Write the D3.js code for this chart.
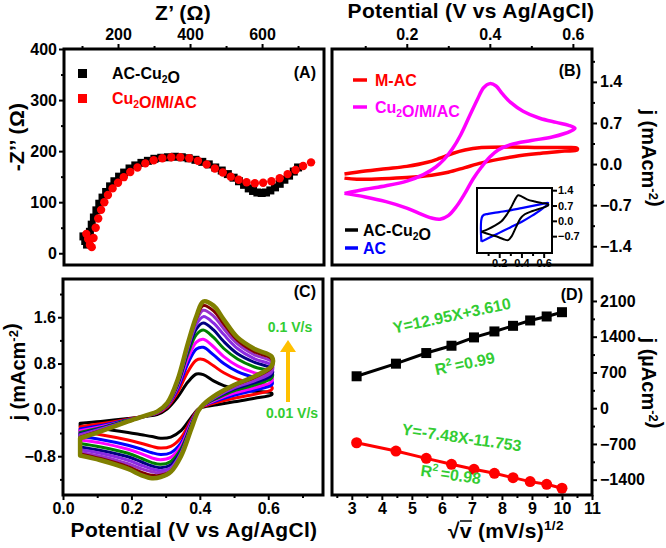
<!DOCTYPE html>
<html>
<head>
<meta charset="utf-8">
<script src="https://cdn.jsdelivr.net/npm/d3@7"></script>
<style>
  body { margin: 0; background: #fff; }
  text { font-family: "Liberation Sans", Arial, sans-serif; font-weight: bold; }
</style>
</head>
<body>
<svg id="chart" width="666" height="548"></svg>
<script>
// ---- (A) Nyquist data ----
const acCu2oZre = [104,109,114,118,122,127,133,140,148,157,167,178,190,203,217,232,248,265,283,301,320,339,358,377,396,415,434,452,470,488,505,521,536,550,563,575,587,599,611,623,636,649,662,675,688,700];
const acCu2oZim = [33,24,17,28,42,56,70,84,97,109,120,131,141,150,158,166,172,177,181,185,187,188,189,188,186,183,179,174,168,162,155,148,141,134,127,122,119,118,119,123,129,136,144,152,160,168];
const cu2oMacZre = [112,117,122,127,132,138,145,153,162,172,185,200,216,234,254,276,299,323,348,373,398,422,446,469,491,513,535,557,580,603,626,649,671,693,714,736];
const cu2oMacZim = [38,28,16,12,30,50,68,85,100,114,127,138,149,159,168,176,182,186,188,188,186,181,174,166,158,150,144,139,137,138,141,147,155,163,171,178];

// ---- (B) CV at 0.1 V/s ----
const mAcV = [0.05,0.10,0.15,0.20,0.25,0.28,0.31,0.34,0.38,0.45,0.52,0.58,0.61,0.61,0.58,0.52,0.46,0.42,0.38,0.34,0.30,0.26,0.20,0.14,0.08,0.05];
const mAcJ = [-0.17,-0.12,-0.08,-0.04,0.03,0.10,0.18,0.24,0.28,0.29,0.28,0.28,0.27,0.24,0.22,0.18,0.13,0.08,0.02,-0.06,-0.14,-0.19,-0.23,-0.25,-0.26,-0.24];
const cu2oMacV = [0.05,0.10,0.15,0.20,0.24,0.27,0.29,0.31,0.33,0.35,0.37,0.385,0.40,0.415,0.43,0.45,0.48,0.52,0.56,0.59,0.605,0.60,0.58,0.55,0.50,0.45,0.42,0.40,0.38,0.36,0.34,0.32,0.30,0.28,0.26,0.23,0.20,0.15,0.10,0.05];
const cu2oMacJ = [-0.50,-0.43,-0.37,-0.29,-0.18,-0.05,0.08,0.26,0.50,0.80,1.10,1.30,1.37,1.33,1.20,1.05,0.90,0.78,0.71,0.66,0.61,0.58,0.52,0.46,0.40,0.33,0.24,0.12,-0.05,-0.25,-0.50,-0.72,-0.88,-0.94,-0.92,-0.84,-0.75,-0.64,-0.56,-0.50];
// inset
const acCu2oV = [0.04,0.10,0.16,0.22,0.27,0.31,0.34,0.37,0.40,0.45,0.52,0.58,0.64,0.64,0.58,0.50,0.43,0.39,0.35,0.31,0.28,0.25,0.20,0.12,0.04];
const acCu2oJ = [-0.50,-0.38,-0.22,-0.02,0.30,0.65,0.95,1.17,1.12,0.98,0.88,0.82,0.76,0.70,0.58,0.45,0.30,0.10,-0.30,-0.72,-0.88,-0.86,-0.76,-0.63,-0.50];
const acV = [0.04,0.10,0.20,0.30,0.40,0.50,0.58,0.64,0.58,0.50,0.40,0.30,0.20,0.10,0.05,0.04];
const acJ = [-0.95,-0.80,-0.55,-0.30,-0.05,0.25,0.52,0.82,0.76,0.68,0.58,0.48,0.40,0.32,0.22,-0.95];

// ---- (C) CVs at 0.01 ... 0.1 V/s ----
const scanColors = ['#000000','#ff0000','#0000ff','#ff00ff','#008000','#000080','#8a2be2','#9932cc','#800000','#808000'];
const fwdV = [0.05,0.11,0.19,0.245,0.275,0.305,0.335,0.365,0.39,0.41,0.44,0.47,0.51,0.56,0.61];
const revV = [0.61,0.56,0.50,0.45,0.41,0.395,0.375,0.345,0.315,0.285,0.26,0.23,0.19,0.11,0.05];
const fwdJ = [
  [-0.23,-0.20,-0.15,-0.11,-0.08,0.02,0.22,0.48,0.62,0.61,0.50,0.42,0.36,0.32,0.29],
  [-0.29,-0.24,-0.16,-0.10,-0.06,0.05,0.30,0.66,0.86,0.87,0.76,0.64,0.53,0.45,0.40],
  [-0.33,-0.27,-0.17,-0.10,-0.05,0.07,0.36,0.80,1.05,1.08,0.95,0.80,0.66,0.56,0.50],
  [-0.36,-0.29,-0.18,-0.10,-0.05,0.08,0.40,0.89,1.17,1.22,1.09,0.92,0.76,0.64,0.57],
  [-0.39,-0.31,-0.18,-0.10,-0.04,0.09,0.43,0.97,1.30,1.38,1.25,1.06,0.88,0.74,0.65],
  [-0.41,-0.32,-0.19,-0.10,-0.04,0.10,0.45,1.02,1.40,1.50,1.38,1.18,0.97,0.82,0.71],
  [-0.43,-0.33,-0.19,-0.10,-0.04,0.10,0.47,1.06,1.48,1.61,1.50,1.30,1.06,0.88,0.77],
  [-0.45,-0.35,-0.20,-0.10,-0.03,0.11,0.49,1.10,1.54,1.72,1.62,1.40,1.14,0.95,0.83],
  [-0.47,-0.36,-0.20,-0.09,-0.03,0.11,0.51,1.13,1.58,1.80,1.71,1.48,1.20,1.00,0.88],
  [-0.49,-0.37,-0.20,-0.09,-0.03,0.12,0.52,1.15,1.62,1.87,1.80,1.56,1.25,1.05,0.92]
];
const revJ = [
  [0.26,0.20,0.14,0.09,0.05,0.01,-0.13,-0.36,-0.47,-0.49,-0.46,-0.43,-0.39,-0.32,-0.28],
  [0.35,0.27,0.20,0.13,0.06,0.01,-0.17,-0.48,-0.63,-0.66,-0.63,-0.58,-0.52,-0.43,-0.38],
  [0.43,0.34,0.25,0.16,0.07,0.00,-0.20,-0.57,-0.74,-0.77,-0.74,-0.68,-0.61,-0.51,-0.46],
  [0.49,0.38,0.29,0.18,0.07,0.00,-0.22,-0.62,-0.82,-0.86,-0.83,-0.76,-0.68,-0.57,-0.52],
  [0.55,0.43,0.33,0.20,0.08,0.00,-0.25,-0.67,-0.89,-0.94,-0.91,-0.84,-0.75,-0.64,-0.58],
  [0.60,0.47,0.36,0.22,0.08,-0.01,-0.27,-0.71,-0.95,-1.00,-0.97,-0.90,-0.81,-0.70,-0.64],
  [0.65,0.50,0.38,0.23,0.08,-0.01,-0.29,-0.74,-1.00,-1.05,-1.02,-0.96,-0.87,-0.75,-0.69],
  [0.69,0.53,0.40,0.25,0.09,-0.01,-0.31,-0.77,-1.04,-1.09,-1.07,-1.02,-0.93,-0.80,-0.73],
  [0.73,0.56,0.42,0.26,0.09,-0.02,-0.32,-0.79,-1.06,-1.13,-1.13,-1.08,-0.98,-0.84,-0.76],
  [0.76,0.58,0.43,0.27,0.09,-0.02,-0.33,-0.80,-1.07,-1.16,-1.18,-1.13,-1.02,-0.87,-0.79]
];

// ---- (D) peak current vs sqrt(scan rate) ----
const sqrtV = [3.16,4.47,5.48,6.32,7.07,7.75,8.37,8.94,9.49,10.0];
const ipa = [625,872,1080,1223,1386,1503,1613,1718,1796,1880];
const ipc = [-677,-839,-982,-1099,-1197,-1275,-1360,-1438,-1490,-1568];

const svg = d3.select('#chart');
const green = '#33cc33';

function axis(gen, scale, majors, minors, fmt, tx, ty, fs, pad) {
  const gm = svg.append('g').attr('transform', `translate(${tx},${ty})`)
    .call(gen(scale).tickValues(minors).tickSize(3).tickFormat(''));
  const g = svg.append('g').attr('transform', `translate(${tx},${ty})`)
    .call(gen(scale).tickValues(majors).tickSize(5).tickPadding(pad).tickFormat(fmt));
  [gm, g].forEach(s => {
    s.select('.domain').remove();
    s.selectAll('line').attr('stroke', '#000').attr('stroke-width', 2);
  });
  g.selectAll('text').attr('font-size', fs).attr('fill', '#000')
    .attr('font-family', '"Liberation Sans", Arial, sans-serif').attr('font-weight', 'bold');
}

function frame(x, y, w, h, sw) {
  svg.append('rect').attr('x', x).attr('y', y).attr('width', w).attr('height', h)
    .attr('fill', 'none').attr('stroke', '#000').attr('stroke-width', sw);
}

function label(x, y, parts, opts) {
  const t = svg.append('text').attr('x', x).attr('y', y)
    .attr('font-size', opts.size).attr('fill', opts.color || '#000')
    .attr('text-anchor', opts.anchor || 'start');
  if (opts.spacing) t.attr('letter-spacing', opts.spacing);
  if (opts.rotate) t.attr('transform', `rotate(${opts.rotate},${x},${y})`);
  parts.forEach(p => {
    if (typeof p === 'string') t.append('tspan').text(p);
    else t.append('tspan').text(p.t).attr('font-size', opts.size * 0.65).attr('dy', p.dy)
  });
  return t;
}

// ================= (A) =================
const xA = d3.scaleLinear().domain([50, 772]).range([64, 324]);
const yA = d3.scaleLinear().domain([-23, 400]).range([265, 49]);
axis(d3.axisTop, xA, [200, 400, 600], [100, 300, 500, 700], d3.format('d'), 0, 49, 16, 4);
axis(d3.axisLeft, yA, [0, 100, 200, 300, 400], [50, 150, 250, 350], d3.format('d'), 64, 0, 16, 2);

const sq = 8;
svg.append('g').selectAll('rect').data(acCu2oZre).join('rect')
  .attr('x', (d, i) => xA(d) - sq / 2).attr('y', (d, i) => yA(acCu2oZim[i]) - sq / 2)
  .attr('width', sq).attr('height', sq).attr('fill', '#000');
svg.append('g').selectAll('circle').data(cu2oMacZre).join('circle')
  .attr('cx', d => xA(d)).attr('cy', (d, i) => yA(cu2oMacZim[i])).attr('r', 4.2).attr('fill', '#ff0000');

svg.append('rect').attr('x', 78).attr('y', 69).attr('width', 9).attr('height', 9).attr('fill', '#000');
svg.append('rect').attr('x', 78).attr('y', 94).attr('width', 9).attr('height', 9).attr('fill', '#ff0000');
label(112, 79, ['AC-Cu', {t: '2', dy: 4}, {t: '', dy: -4}, 'O'], {size: 16});
label(112, 104, ['Cu', {t: '2', dy: 4}, {t: '', dy: -4}, 'O/M/AC'], {size: 16, color: '#ff0000'});
label(316, 78, ['(A)'], {size: 16, anchor: 'end'});
frame(64, 49, 260, 216, 3);
label(183, 20, ['Z\u2019 (\u03a9)'], {size: 21, anchor: 'middle', spacing: 0.3});
label(24, 137, ['-Z\u2019\u2019 (\u03a9)'], {size: 21, anchor: 'middle', rotate: -90, spacing: 0.3});

// ================= (B) =================
const xB = d3.scaleLinear().domain([0.02, 0.646]).range([332, 592]);
const yB = d3.scaleLinear().domain([-1.72, 1.96]).range([265, 49]);
axis(d3.axisTop, xB, [0.2, 0.4, 0.6], [0.1, 0.3, 0.5], d3.format('.1f'), 0, 49, 16, 4);
axis(d3.axisRight, yB, [-1.4, -0.7, 0, 0.7, 1.4], [-1.05, -0.35, 0.35, 1.05, 1.75], d3.format('.1f'), 592, 0, 16, 3);

const lineB = d3.line().x(d => xB(d[0])).y(d => yB(d[1])).curve(d3.curveCatmullRom.alpha(0.5));
svg.append('path').attr('d', lineB(mAcV.map((v, i) => [v, mAcJ[i]])))
  .attr('fill', 'none').attr('stroke', '#ff0000').attr('stroke-width', 3.5);
svg.append('path').attr('d', lineB(cu2oMacV.map((v, i) => [v, cu2oMacJ[i]])))
  .attr('fill', 'none').attr('stroke', '#ff00ff').attr('stroke-width', 3.5);

// legend B
[[80, '#ff0000'], [107, '#ff00ff']].forEach(([y, c]) =>
  svg.append('line').attr('x1', 353).attr('x2', 367).attr('y1', y).attr('y2', y).attr('stroke', c).attr('stroke-width', 3.5));
[[230, '#000'], [248, '#0000ff']].forEach(([y, c]) =>
  svg.append('line').attr('x1', 345).attr('x2', 358).attr('y1', y).attr('y2', y).attr('stroke', c).attr('stroke-width', 3.5));
label(375, 86, ['M-AC'], {size: 16, color: '#ff0000'});
label(375, 113, ['Cu', {t: '2', dy: 4}, {t: '', dy: -4}, 'O/M/AC'], {size: 16, color: '#ff00ff'});
label(363, 236, ['AC-Cu', {t: '2', dy: 4}, {t: '', dy: -4}, 'O'], {size: 16});
label(363, 254, ['AC'], {size: 16, color: '#0000ff'});
label(581, 76, ['(B)'], {size: 16, anchor: 'end'});

// inset
const xI = d3.scaleLinear().domain([0, 0.675]).range([477, 552]);
const yI = d3.scaleLinear().domain([-1.47, 1.5]).range([253, 188]);
svg.append('rect').attr('x', 477).attr('y', 188).attr('width', 75).attr('height', 65).attr('fill', '#fff');
const lineI = d3.line().x(d => xI(d[0])).y(d => yI(d[1])).curve(d3.curveCatmullRom.alpha(0.5));
svg.append('path').attr('d', lineI(acV.map((v, i) => [v, acJ[i]])))
  .attr('fill', 'none').attr('stroke', '#0000ff').attr('stroke-width', 2.2);
svg.append('path').attr('d', lineI(acCu2oV.map((v, i) => [v, acCu2oJ[i]])))
  .attr('fill', 'none').attr('stroke', '#000').attr('stroke-width', 2);
frame(477, 188, 75, 65, 2);
axis(d3.axisBottom, xI, [0.2, 0.4, 0.6], [0.1, 0.3, 0.5], d3.format('.1f'), 0, 253, 11, 1);
axis(d3.axisRight, yI, [-0.7, 0, 0.7, 1.4], [], d3.format('.1f'), 552, 0, 11, 1);

frame(332, 49, 260, 216, 3);
label(471, 18, ['Potential (V vs Ag/AgCl)'], {size: 21, anchor: 'middle', spacing: 0.3});
label(642, 158, ['j (mAcm', {t: '-2', dy: -7}, {t: '', dy: 7}, ')'], {size: 20, anchor: 'middle', rotate: 90});

// ================= (C) =================
const xC = d3.scaleLinear().domain([0, 0.76]).range([63, 323]);
const yC = d3.scaleLinear().domain([-1.47, 2.26]).range([495, 279]);
axis(d3.axisBottom, xC, [0, 0.2, 0.4, 0.6], [0.1, 0.3, 0.5, 0.7], d3.format('.1f'), 0, 495, 16, 3);
axis(d3.axisLeft, yC, [-0.8, 0, 0.8, 1.6], [-1.2, -0.4, 0.4, 1.2, 2.0], d3.format('.1f'), 63, 0, 16, 2);

const lineC = d3.line().x(d => xC(d[0])).y(d => yC(d[1])).curve(d3.curveCatmullRom.alpha(0.5));
fwdJ.forEach((f, k) => {
  const pts = fwdV.map((v, i) => [v, f[i]]).concat(revV.map((v, i) => [v, revJ[k][i]]));
  svg.append('path').attr('d', lineC(pts) + 'Z').attr('fill', 'none')
    .attr('stroke', scanColors[k]).attr('stroke-width', k === 9 ? 4.5 : 3)
    .attr('stroke-linejoin', 'round');
});

svg.append('line').attr('x1', 288).attr('x2', 288).attr('y1', 402).attr('y2', 350)
  .attr('stroke', '#ffc000').attr('stroke-width', 4);
svg.append('path').attr('d', 'M280,352 L296,352 L288,340 Z').attr('fill', '#ffc000');
label(290, 332, ['0.1 V/s'], {size: 14, color: green, anchor: 'middle'});
label(292, 418, ['0.01 V/s'], {size: 14, color: green, anchor: 'middle'});
label(316, 297, ['(C)'], {size: 16, anchor: 'end'});
frame(63, 279, 260, 216, 3);
label(194, 537, ['Potential (V vs Ag/AgCl)'], {size: 21, anchor: 'middle', spacing: 0.3});
label(25, 372, ['j (mAcm', {t: '-2', dy: -7}, {t: '', dy: 7}, ')'], {size: 20, anchor: 'middle', rotate: -90});

// ================= (D) =================
const xD = d3.scaleLinear().domain([2.34, 11]).range([332, 592]);
const yD = d3.scaleLinear().domain([-1700, 2530]).range([495, 279]);
axis(d3.axisBottom, xD, d3.range(3, 12), d3.range(2.5, 11, 1), d3.format('d'), 0, 495, 16, 3);
axis(d3.axisRight, yD, [-1400, -700, 0, 700, 1400, 2100], [-1050, -350, 350, 1050, 1750], d3.format('d'), 592, 0, 16, 3);

const lineD = d3.line().x(d => xD(d[0])).y(d => yD(d[1]));
svg.append('path').attr('d', lineD(sqrtV.map((v, i) => [v, ipa[i]])))
  .attr('fill', 'none').attr('stroke', '#000').attr('stroke-width', 3);
svg.append('path').attr('d', lineD(sqrtV.map((v, i) => [v, ipc[i]])))
  .attr('fill', 'none').attr('stroke', '#ff0000').attr('stroke-width', 3);
svg.append('g').selectAll('rect').data(sqrtV).join('rect')
  .attr('x', d => xD(d) - 5).attr('y', (d, i) => yD(ipa[i]) - 5)
  .attr('width', 10).attr('height', 10).attr('fill', '#000');
svg.append('g').selectAll('circle').data(sqrtV).join('circle')
  .attr('cx', d => xD(d)).attr('cy', (d, i) => yD(ipc[i])).attr('r', 5.5).attr('fill', '#ff0000');

label(453, 321, ['Y=12.95X+3.610'], {size: 16, color: green, anchor: 'middle', rotate: -12});
label(466, 369, ['R', {t: '2', dy: -7}, {t: ' ', dy: 7}, '=0.99'], {size: 16, color: green, anchor: 'middle', rotate: -12});
label(461, 443, ['Y=-7.48X-11.753'], {size: 16, color: green, anchor: 'middle', rotate: 8});
label(450, 480, ['R', {t: '2', dy: -7}, {t: ' ', dy: 7}, '=0.98'], {size: 16, color: green, anchor: 'middle', rotate: 8});
label(583, 300, ['(D)'], {size: 16, anchor: 'end'});
frame(332, 279, 260, 216, 3);
label(448, 538, ['\u221av  (mV/s)', {t: '1/2', dy: -8}], {size: 21, spacing: 0.3});
svg.append('line').attr('x1', 460).attr('x2', 472).attr('y1', 521).attr('y2', 521).attr('stroke', '#000').attr('stroke-width', 1.5);
label(642, 383, ['j (\u00b5Acm', {t: '-2', dy: -7}, {t: '', dy: 7}, ')'], {size: 20, anchor: 'middle', rotate: 90});
</script>
</body>
</html>
